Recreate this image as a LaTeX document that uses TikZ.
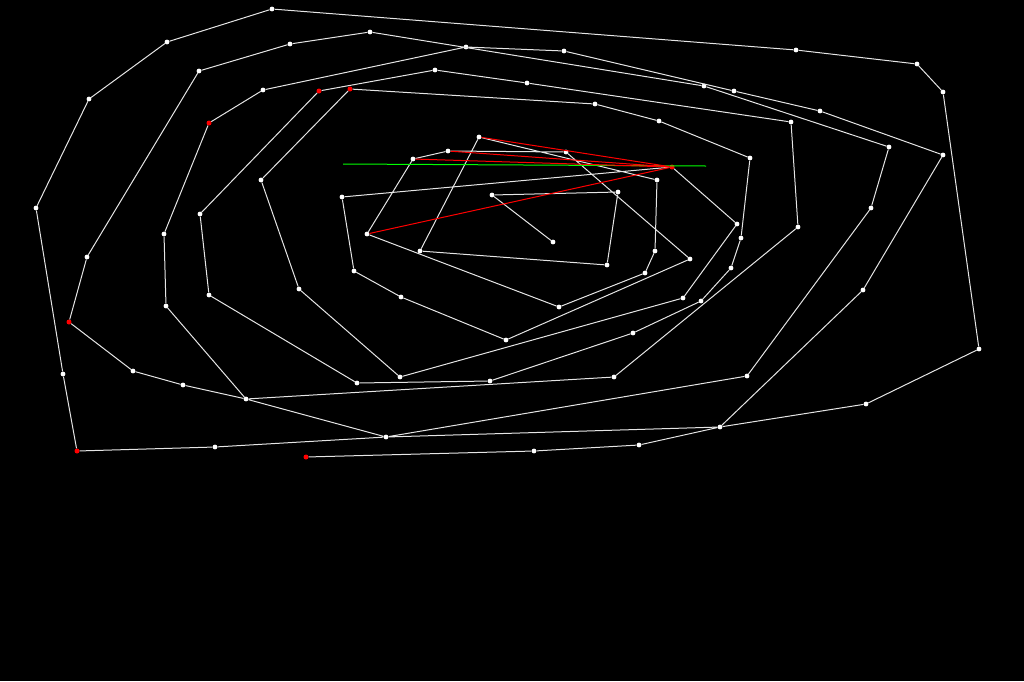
\documentclass[tikz,border=0pt]{standalone}
\tikzset{
  pt/.style={circle,fill=white,inner sep=0pt,minimum size=4.8pt},
  redpt/.style={circle,fill=red,inner sep=0pt,minimum size=5pt},
  trace/.style={draw=white!90!black,line width=1pt},
  ray/.style={draw=red,line width=1pt},
  level/.style={draw=green,line width=1pt},
}
\begin{document}
\begin{tikzpicture}[x=1pt,y=-1pt]
\fill[black] (0,0) rectangle (1024,681);
\useasboundingbox (0,0) rectangle (1024,681);
\node[pt] (c0) at (553,242) {};
\node[pt] (c1) at (492,195) {};
\node[pt] (c2) at (618,192) {};
\node[pt] (c3) at (607,265) {};
\node[pt] (c4) at (420,251) {};
\node[pt] (c5) at (479,137) {};
\node[pt] (c6) at (657,180) {};
\node[pt] (c7) at (655,251) {};
\node[pt] (c8) at (645,273) {};
\node[pt] (c9) at (559,307) {};
\node[pt] (c10) at (367,234) {};
\node[pt] (c11) at (413,159) {};
\node[pt] (c12) at (448,151) {};
\node[pt] (c13) at (566,152) {};
\node[pt] (c14) at (690,259) {};
\node[pt] (c15) at (506,340) {};
\node[pt] (c16) at (401,297) {};
\node[pt] (c17) at (354,271) {};
\node[pt] (c18) at (342,197) {};
\node[redpt] (c19) at (672,167) {};
\node[pt] (c20) at (737,224) {};
\node[pt] (c21) at (683,298) {};
\node[pt] (c22) at (400,377) {};
\node[pt] (c23) at (299,289) {};
\node[pt] (c24) at (261,180) {};
\node[redpt] (c25) at (350,89) {};
\node[pt] (c26) at (595,104) {};
\node[pt] (c27) at (659,121) {};
\node[pt] (c28) at (750,158) {};
\node[pt] (c29) at (741,238) {};
\node[pt] (c30) at (731,268) {};
\node[pt] (c31) at (701,301) {};
\node[pt] (c32) at (633,333) {};
\node[pt] (c33) at (490,381) {};
\node[pt] (c34) at (357,383) {};
\node[pt] (c35) at (209,295) {};
\node[pt] (c36) at (200,214) {};
\node[redpt] (c37) at (319,91) {};
\node[pt] (c38) at (435,70) {};
\node[pt] (c39) at (527,83) {};
\node[pt] (c40) at (791,122) {};
\node[pt] (c41) at (798,227) {};
\node[pt] (c42) at (614,377) {};
\node[pt] (c43) at (246,399) {};
\node[pt] (c44) at (166,306) {};
\node[pt] (c45) at (164,234) {};
\node[redpt] (c46) at (209,123) {};
\node[pt] (c47) at (263,90) {};
\node[pt] (c48) at (466,47) {};
\node[pt] (c49) at (564,51) {};
\node[pt] (c50) at (734,91) {};
\node[pt] (c51) at (820,111) {};
\node[pt] (c52) at (943,155) {};
\node[pt] (c53) at (863,290) {};
\node[pt] (c54) at (720,427) {};
\node[pt] (c55) at (386,437) {};
\node[pt] (c56) at (183,385) {};
\node[pt] (c57) at (133,371) {};
\node[redpt] (c58) at (69,322) {};
\node[pt] (c59) at (87,257) {};
\node[pt] (c60) at (199,71) {};
\node[pt] (c61) at (290,44) {};
\node[pt] (c62) at (370,32) {};
\node[pt] (c63) at (704,86) {};
\node[pt] (c64) at (889,147) {};
\node[pt] (c65) at (871,208) {};
\node[pt] (c66) at (747,376) {};
\node[pt] (c67) at (215,447) {};
\node[redpt] (c68) at (77,451) {};
\node[pt] (c69) at (63,374) {};
\node[pt] (c70) at (36,208) {};
\node[pt] (c71) at (89,99) {};
\node[pt] (c72) at (167,42) {};
\node[pt] (c73) at (272,9) {};
\node[pt] (c74) at (796,50) {};
\node[pt] (c75) at (917,64) {};
\node[pt] (c76) at (943,92) {};
\node[pt] (c77) at (979,349) {};
\node[pt] (c78) at (866,404) {};
\node[pt] (c79) at (639,445) {};
\node[pt] (c80) at (534,451) {};
\node[redpt] (c81) at (306,457) {};
\coordinate (g1) at (343,164);
\coordinate (g2) at (706,166);
\draw[trace] (c0) -- (c1) -- (c2) -- (c3) -- (c4) -- (c5) -- (c6) -- (c7) -- (c8) -- (c9) -- (c10)
  -- (c11) -- (c12) -- (c13) -- (c14) -- (c15) -- (c16) -- (c17) -- (c18) -- (c19) -- (c20)
  -- (c21) -- (c22) -- (c23) -- (c24) -- (c25) -- (c26) -- (c27) -- (c28) -- (c29) -- (c30)
  -- (c31) -- (c32) -- (c33) -- (c34) -- (c35) -- (c36) -- (c37) -- (c38) -- (c39) -- (c40)
  -- (c41) -- (c42) -- (c43) -- (c44) -- (c45) -- (c46) -- (c47) -- (c48) -- (c49) -- (c50)
  -- (c51) -- (c52) -- (c53) -- (c54) -- (c55) -- (c43) -- (c56) -- (c57) -- (c58) -- (c59)
  -- (c60) -- (c61) -- (c62) -- (c63) -- (c64) -- (c65) -- (c66) -- (c55) -- (c67) -- (c68)
  -- (c69) -- (c70) -- (c71) -- (c72) -- (c73) -- (c74) -- (c75) -- (c76) -- (c77) -- (c78)
  -- (c54) -- (c79) -- (c80) -- (c81);
\draw[level] (g1) -- (g2);
\draw[ray] (c5) -- (c19);
\draw[ray] (c12) -- (c19);
\draw[ray] (c11) -- (c19);
\draw[ray] (c10) -- (c19);
\end{tikzpicture}
\end{document}
